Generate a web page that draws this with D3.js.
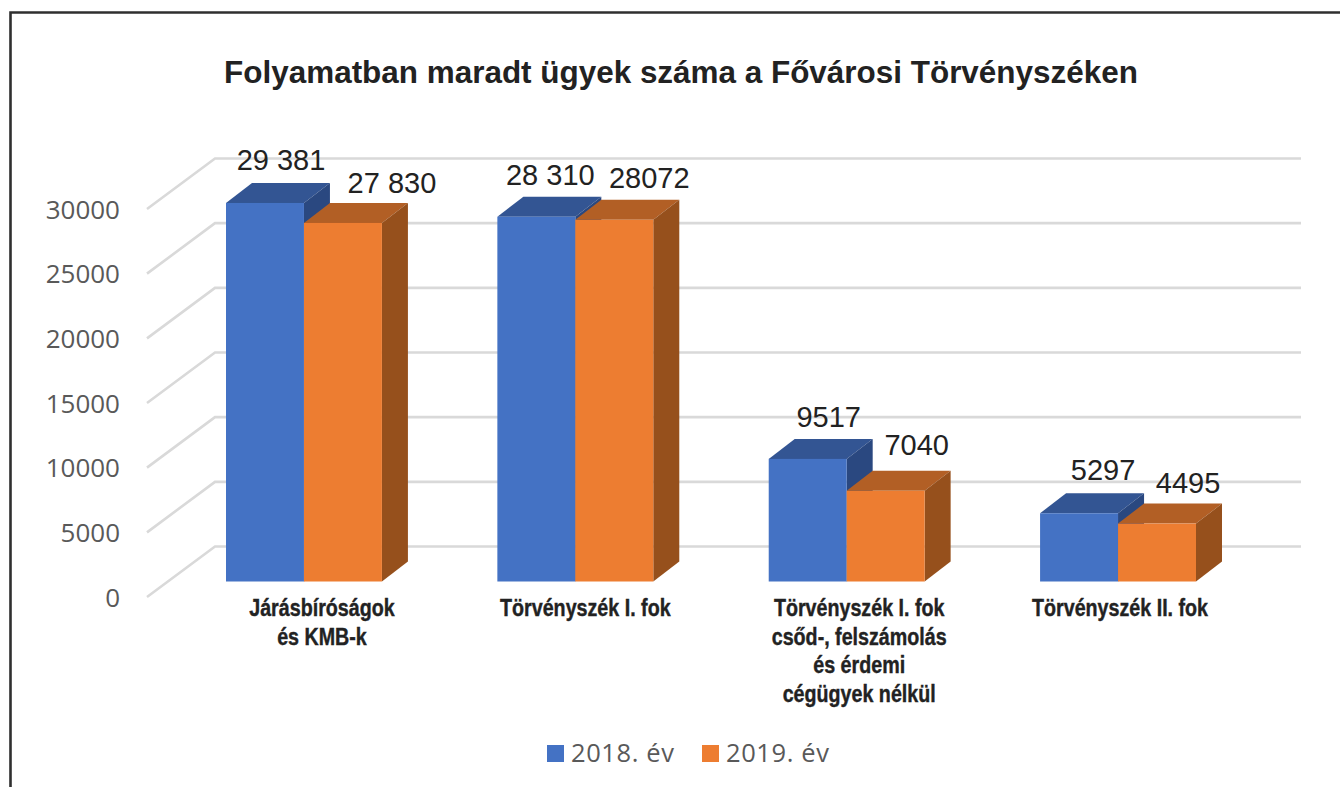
<!DOCTYPE html>
<html>
<head>
<meta charset="utf-8">
<script src="https://cdn.jsdelivr.net/npm/d3@7"></script>
<style>
html,body{margin:0;padding:0;background:#fff;overflow:hidden}
svg{display:block}
</style>
</head>
<body>
<script>
const titleText = "Folyamatban maradt ügyek száma a Fővárosi Törvényszéken";
const categories = [
  ["Járásbíróságok","és KMB-k"],
  ["Törvényszék I. fok"],
  ["Törvényszék I. fok","csőd-, felszámolás","és érdemi","cégügyek nélkül"],
  ["Törvényszék II. fok"]
];
const seriesNames = ["2018. év","2019. év"];
const values2018 = [29381,28310,9517,5297];
const values2019 = [27830,28072,7040,4495];
const labels2018 = ["29 381","28 310","9517","5297"];
const labels2019 = ["27 830","28072","7040","4495"];
const yTicks = [0,5000,10000,15000,20000,25000,30000];

const W=1340,H=787;
const svg=d3.select("body").append("svg").attr("width",W).attr("height",H);

// layout
const colors=[{front:"#4472C4",top:"#335593",side:"#2A4880"},{front:"#ED7D31",top:"#B25F25",side:"#96501C"}];
const depthX=26,depthY=20;
const labelDx=[[16,49],[14,35],[21,31],[24,31]];
const labelGap=[[33,30],[32,32],[32,36],[33,31]];
const catDx=[18,10,12.5,2];

// frame
svg.append("path").attr("d",`M10.5,${H} V12.5 H${W}`).attr("fill","none").attr("stroke","#2f2f2f").attr("stroke-width",2.6);

// title
svg.append("text").attr("x",681).attr("y",83).attr("text-anchor","middle")
  .attr("font-family","'Liberation Sans',Arial,sans-serif").attr("font-weight","bold").attr("font-size",31.45)
  .attr("fill","#222").text(titleText);

// scales
const gridY=d3.scaleLinear().domain([0,30000]).range([546.5,158.5]);
const labelY=d3.scaleLinear().domain([0,30000]).range([597,209]);
const barY=d3.scaleLinear().domain([0,30000]).range([581.5,195]);
const x0=d3.scaleBand().domain(d3.range(categories.length)).range([226,1196]).paddingInner(0.4254).paddingOuter(0);
const x1=d3.scaleBand().domain([0,1]).range([0,x0.bandwidth()]);

// grid
const grid=svg.append("g").attr("fill","none").attr("stroke","#d9d9d9").attr("stroke-width",2.6);
yTicks.forEach(t=>{
  const y=gridY(t);
  grid.append("path").attr("d",`M147,${y+50.5} L215,${y} H1301`);
});

// y labels
svg.append("g").selectAll("text").data(yTicks).join("text")
  .attr("x",120).attr("y",d=>labelY(d)+9.5).attr("text-anchor","end")
  .attr("font-family","'Open Sans',sans-serif").attr("font-size",26).attr("fill","#595959")
  .text(d=>d);

// bars
categories.forEach((c,i)=>{
  const g=svg.append("g");
  [values2018[i],values2019[i]].forEach((v,s)=>{
    const x=x0(i)+x1(s),w=x1.bandwidth(),yt=barY(v),yb=barY(0),col=colors[s];
    g.append("path").attr("fill",col.top)
      .attr("d",`M${x},${yt} L${x+depthX},${yt-depthY} H${x+w+depthX} L${x+w},${yt} Z`);
    g.append("path").attr("fill",col.side)
      .attr("d",`M${x+w},${yt} L${x+w+depthX},${yt-depthY} V${yb-depthY} L${x+w},${yb} Z`);
    g.append("rect").attr("fill",col.front).attr("x",x).attr("y",yt).attr("width",w).attr("height",yb-yt);
  });
});

// value labels
categories.forEach((c,i)=>{
  [labels2018[i],labels2019[i]].forEach((t,s)=>{
    const v=(s?values2019:values2018)[i];
    svg.append("text").attr("x",x0(i)+x1(s)+x1.bandwidth()/2+labelDx[i][s]).attr("y",barY(v)-labelGap[i][s])
      .attr("text-anchor","middle").attr("font-family","'Liberation Sans',Arial,sans-serif")
      .attr("font-size",29).attr("fill","#222").text(t);
  });
});

// category labels (condensed bold)
categories.forEach((lines,i)=>{
  const cx=x0(i)+x0.bandwidth()/2+catDx[i];
  lines.forEach((l,k)=>{
    svg.append("text").attr("transform",`translate(${cx},${616+k*28.5}) scale(0.82,1)`)
      .attr("text-anchor","middle").attr("font-family","'Liberation Sans',sans-serif")
      .attr("font-weight","bold").attr("font-size",24).attr("fill","#222")
      .attr("stroke","#222").attr("stroke-width",0.4).text(l);
  });
});

// legend
const legX=[547,702];
seriesNames.forEach((n,s)=>{
  svg.append("rect").attr("x",legX[s]).attr("y",745).attr("width",17).attr("height",17).attr("fill",colors[s].front);
  svg.append("text").attr("x",legX[s]+24).attr("y",762).attr("font-family","'Open Sans',sans-serif")
    .attr("font-size",25.5).attr("letter-spacing",0.6).attr("fill","#595959").text(n);
});
</script>
</body>
</html>
